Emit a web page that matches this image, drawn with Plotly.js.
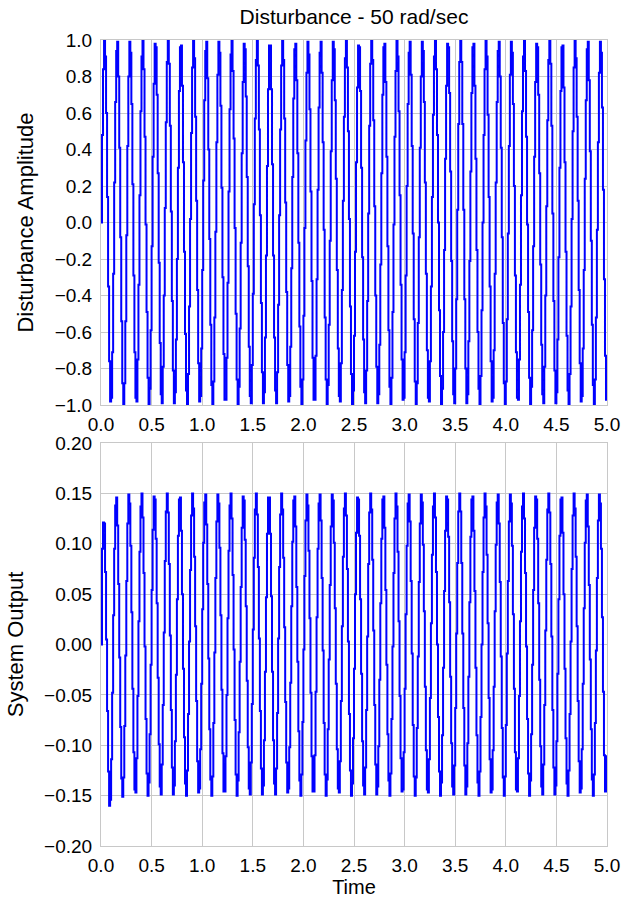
<!DOCTYPE html>
<html>
<head>
<meta charset="utf-8">
<script src="https://cdn.plot.ly/plotly-3.0.1.min.js"></script>
<style>
html,body{margin:0;padding:0;background:#fff;}
#chart{width:624px;height:901px;}
</style>
</head>
<body>
<div id="chart"></div>
<script>
// Sampling of both signals (seconds)
const startTime = 0.0;
const sampleTime = 0.01;

// Top panel: disturbance samples, t = 0.00 ... 5.00 s
const disturbance = [
0.00,0.48,0.84,1.00,0.91,0.60,0.14,-0.35,-0.76,-0.98,-0.96,-0.71,-0.28,
0.22,0.66,0.94,0.99,0.80,0.41,-0.08,-0.54,-0.88,-1.00,-0.88,-0.54,-0.07,
0.42,0.80,0.99,0.93,0.65,0.21,-0.29,-0.71,-0.96,-0.98,-0.75,-0.34,
0.15,0.61,0.91,1.00,0.84,0.47,-0.01,-0.49,-0.85,-1.00,-0.91,-0.59,-0.13,
0.36,0.76,0.98,0.96,0.70,0.27,-0.22,-0.66,-0.94,-0.99,-0.79,-0.40,
0.08,0.55,0.88,1.00,0.87,0.53,0.06,-0.43,-0.81,-0.99,-0.93,-0.64,-0.20,
0.30,0.72,0.96,0.97,0.75,0.33,-0.16,-0.61,-0.92,-1.00,-0.83,-0.46,
0.02,0.49,0.85,1.00,0.90,0.58,0.12,-0.37,-0.77,-0.98,-0.95,-0.69,-0.26,
0.23,0.67,0.94,0.99,0.79,0.40,-0.09,-0.56,-0.89,-1.00,-0.87,-0.52,-0.05,
0.44,0.81,0.99,0.93,0.64,0.19,-0.30,-0.72,-0.97,-0.97,-0.74,-0.33,
0.17,0.62,0.92,1.00,0.83,0.46,-0.03,-0.50,-0.86,-1.00,-0.90,-0.58,-0.11,
0.38,0.77,0.98,0.95,0.69,0.25,-0.24,-0.68,-0.95,-0.99,-0.78,-0.39,
0.10,0.57,0.89,1.00,0.86,0.51,0.04,-0.44,-0.82,-0.99,-0.93,-0.63,-0.18,
0.31,0.73,0.97,0.97,0.73,0.32,-0.18,-0.63,-0.92,-0.99,-0.82,-0.45,
0.04,0.51,0.86,1.00,0.89,0.57,0.11,-0.38,-0.78,-0.98,-0.95,-0.68,-0.25,
0.25,0.68,0.95,0.98,0.78,0.38,-0.11,-0.57,-0.90,-1.00,-0.86,-0.51,-0.03,
0.45,0.82,0.99,0.92,0.62,0.17,-0.32,-0.74,-0.97,-0.97,-0.73,-0.31,
0.18,0.63,0.93,0.99,0.82,0.44,-0.04,-0.52,-0.86,-1.00,-0.89,-0.56,-0.10,
0.39,0.78,0.99,0.95,0.67,0.24,-0.26,-0.69,-0.95,-0.98,-0.77,-0.37,
0.12,0.58,0.90,1.00,0.85,0.50,0.02,-0.46,-0.83,-1.00,-0.92,-0.62,-0.16,
0.33,0.74,0.97,0.96,0.72,0.30,-0.19,-0.64,-0.93,-0.99,-0.81,-0.43,
0.05,0.53,0.87,1.00,0.89,0.56,0.09,-0.40,-0.79,-0.99,-0.94,-0.67,-0.23,
0.27,0.70,0.96,0.98,0.77,0.36,-0.13,-0.59,-0.90,-1.00,-0.85,-0.49,-0.01,
0.47,0.83,1.00,0.91,0.61,0.15,-0.34,-0.75,-0.97,-0.96,-0.71,-0.29,
0.20,0.65,0.93,0.99,0.81,0.42,-0.06,-0.53,-0.87,-1.00,-0.88,-0.55,-0.08,
0.41,0.80,0.99,0.94,0.66,0.22,-0.28,-0.70,-0.96,-0.98,-0.76,-0.35,
0.14,0.59,0.91,1.00,0.84,0.48,0.00,-0.48,-0.84,-1.00,-0.91,-0.60,-0.15,
0.35,0.75,0.98,0.96,0.71,0.28,-0.21,-0.65,-0.94,-0.99,-0.80,-0.42,
0.07,0.54,0.88,1.00,0.88,0.54,0.07,-0.42,-0.80,-0.99,-0.94,-0.65,-0.21,
0.28,0.71,0.96,0.98,0.75,0.35,-0.15,-0.60,-0.91,-1.00,-0.84,-0.48,
0.00,0.48,0.84,1.00,0.91,0.59,0.14,-0.35,-0.76,-0.98,-0.96,-0.70,-0.28,
0.22,0.66,0.94,0.99,0.80,0.41,-0.08,-0.55,-0.88,-1.00,-0.87,-0.53,-0.06,
0.42,0.81,0.99,0.93,0.65,0.20,-0.29,-0.71,-0.96,-0.97,-0.75,-0.34,
0.15,0.61,0.91,1.00,0.83,0.47,-0.01,-0.49,-0.85,-1.00,-0.90,-0.59,-0.13,
0.36,0.77,0.98,0.96,0.70,0.27,-0.23,-0.67,-0.94,-0.99,-0.79,-0.40,
0.09,0.56,0.89,1.00,0.87,0.53,0.05,-0.43,-0.81,-0.99,-0.93,-0.64,-0.19,
0.30,0.72,0.96,0.97,0.74,0.33,-0.16,-0.62,-0.92,-1.00,-0.83,-0.46,
0.02,0.50,0.85,1.00,0.90,0.58,0.12,-0.37,-0.77,-0.98,-0.95,-0.69,-0.26,
0.24,0.67,0.95,0.99,0.78,0.39,-0.10,-0.56,-0.89,-1.00,-0.86,-0.52,-0.04,
0.44,0.82,0.99,0.93,0.63,0.18,-0.31,-0.73,-0.97,-0.97
];

// Bottom panel: system output samples, t = 0.00 ... 5.00 s
const systemOutput = [
0.000,0.095,0.121,0.120,0.072,0.005,-0.066,-0.126,-0.160,-0.154,-0.114,-0.048,
0.029,0.095,0.138,0.146,0.118,0.060,-0.013,-0.082,-0.133,-0.151,-0.132,-0.081,-0.011,
0.063,0.120,0.149,0.140,0.098,0.032,-0.044,-0.107,-0.144,-0.147,-0.113,-0.051,
0.023,0.092,0.137,0.150,0.126,0.071,-0.002,-0.074,-0.128,-0.150,-0.137,-0.089,-0.020,
0.054,0.114,0.147,0.144,0.105,0.041,-0.033,-0.099,-0.141,-0.149,-0.119,-0.060,
0.012,0.083,0.132,0.150,0.131,0.080,0.009,-0.065,-0.122,-0.149,-0.140,-0.096,-0.030,
0.045,0.108,0.144,0.146,0.113,0.050,-0.024,-0.092,-0.138,-0.150,-0.125,-0.069,
0.003,0.074,0.128,0.150,0.135,0.087,0.018,-0.056,-0.116,-0.147,-0.143,-0.104,-0.039,
0.035,0.101,0.141,0.149,0.119,0.060,-0.014,-0.084,-0.134,-0.150,-0.131,-0.078,-0.008,
0.066,0.122,0.149,0.140,0.096,0.029,-0.045,-0.108,-0.146,-0.146,-0.111,-0.050,
0.026,0.093,0.138,0.150,0.125,0.069,-0.005,-0.075,-0.129,-0.150,-0.135,-0.087,-0.017,
0.057,0.116,0.147,0.143,0.104,0.038,-0.036,-0.102,-0.143,-0.149,-0.117,-0.059,
0.015,0.086,0.134,0.150,0.129,0.077,0.006,-0.066,-0.123,-0.149,-0.140,-0.095,-0.027,
0.047,0.110,0.146,0.146,0.110,0.048,-0.027,-0.095,-0.138,-0.149,-0.123,-0.068,
0.006,0.077,0.129,0.150,0.134,0.086,0.017,-0.057,-0.117,-0.147,-0.143,-0.102,-0.038,
0.038,0.102,0.143,0.147,0.117,0.057,-0.017,-0.086,-0.135,-0.150,-0.129,-0.077,-0.005,
0.068,0.123,0.149,0.138,0.093,0.026,-0.048,-0.111,-0.146,-0.146,-0.110,-0.047,
0.027,0.095,0.140,0.149,0.123,0.066,-0.006,-0.078,-0.129,-0.150,-0.134,-0.084,-0.015,
0.059,0.117,0.149,0.143,0.101,0.036,-0.039,-0.104,-0.143,-0.147,-0.116,-0.056,
0.018,0.087,0.135,0.150,0.128,0.075,0.003,-0.069,-0.125,-0.150,-0.138,-0.093,-0.024,
0.050,0.111,0.146,0.144,0.108,0.045,-0.029,-0.096,-0.140,-0.149,-0.122,-0.065,
0.008,0.080,0.131,0.150,0.134,0.084,0.014,-0.060,-0.119,-0.149,-0.141,-0.101,-0.035,
0.041,0.105,0.144,0.147,0.116,0.054,-0.020,-0.089,-0.135,-0.150,-0.128,-0.074,-0.002,
0.071,0.125,0.150,0.137,0.092,0.023,-0.051,-0.113,-0.146,-0.144,-0.107,-0.044,
0.030,0.098,0.140,0.149,0.122,0.063,-0.009,-0.080,-0.131,-0.150,-0.132,-0.083,-0.012,
0.062,0.120,0.149,0.141,0.099,0.033,-0.042,-0.105,-0.144,-0.147,-0.114,-0.053,
0.021,0.089,0.137,0.150,0.126,0.072,0.000,-0.072,-0.126,-0.150,-0.137,-0.090,-0.023,
0.053,0.113,0.147,0.144,0.107,0.042,-0.032,-0.098,-0.141,-0.149,-0.120,-0.063,
0.011,0.081,0.132,0.150,0.132,0.081,0.011,-0.063,-0.120,-0.149,-0.141,-0.098,-0.032,
0.042,0.107,0.144,0.147,0.113,0.053,-0.023,-0.090,-0.137,-0.150,-0.126,-0.072,
0.000,0.072,0.126,0.150,0.137,0.089,0.021,-0.053,-0.114,-0.147,-0.144,-0.105,-0.042,
0.033,0.099,0.141,0.149,0.120,0.062,-0.012,-0.083,-0.132,-0.150,-0.131,-0.080,-0.009,
0.063,0.122,0.149,0.140,0.098,0.030,-0.044,-0.107,-0.144,-0.146,-0.113,-0.051,
0.023,0.092,0.137,0.150,0.125,0.071,-0.002,-0.074,-0.128,-0.150,-0.135,-0.089,-0.020,
0.054,0.116,0.147,0.144,0.105,0.041,-0.035,-0.101,-0.141,-0.149,-0.119,-0.060,
0.014,0.084,0.134,0.150,0.131,0.080,0.008,-0.065,-0.122,-0.149,-0.140,-0.096,-0.029,
0.045,0.108,0.144,0.146,0.111,0.050,-0.024,-0.093,-0.138,-0.150,-0.125,-0.069,
0.003,0.075,0.128,0.150,0.135,0.087,0.018,-0.056,-0.116,-0.147,-0.143,-0.104,-0.039,
0.036,0.101,0.143,0.149,0.117,0.059,-0.015,-0.084,-0.134,-0.150,-0.129,-0.078,-0.006,
0.066,0.123,0.149,0.140,0.095,0.027,-0.047,-0.110,-0.146,-0.146,
-0.110
];

const chartTitle = "Disturbance - 50 rad/sec";
const topYLabel = "Disturbance Amplitude";
const bottomYLabel = "System Output";
const xLabel = "Time";

const lineStyle = {color: "#0000FF", width: 2, shape: "hv"};
const gridColor = "#c8c8c8";
const fontFamily = "'Liberation Sans', Arial, sans-serif";

const traces = [
  {type: "scatter", mode: "lines", x0: startTime, dx: sampleTime, y: disturbance,
   xaxis: "x", yaxis: "y", line: lineStyle, hoverinfo: "skip"},
  {type: "scatter", mode: "lines", x0: startTime, dx: sampleTime, y: systemOutput,
   xaxis: "x2", yaxis: "y2", line: lineStyle, hoverinfo: "skip"}
];

const xCommon = {
  range: [0, 5], dtick: 0.5, tick0: 0, tickformat: ".1f",
  showgrid: true, gridcolor: gridColor, gridwidth: 1,
  showline: true, linecolor: gridColor, mirror: true, zeroline: false,
  ticks: "outside", ticklen: 2, tickcolor: "rgba(0,0,0,0)",
  tickfont: {size: 19, color: "#000", family: fontFamily}
};
const yCommon = {
  showgrid: true, gridcolor: gridColor, gridwidth: 1,
  showline: true, linecolor: gridColor, mirror: true, zeroline: false,
  ticks: "outside", ticklen: 4, tickcolor: "rgba(0,0,0,0)",
  tickfont: {size: 19, color: "#000", family: fontFamily}
};

const layout = {
  width: 624, height: 901,
  paper_bgcolor: "#ffffff", plot_bgcolor: "#ffffff",
  showlegend: false,
  font: {family: fontFamily, color: "#000", size: 19},
  margin: {l: 101, r: 17, t: 40, b: 55, pad: 0},
  title: {text: chartTitle, font: {size: 21, family: fontFamily, color: "#000"},
          x: 0.5, xref: "paper", y: 1 - 17/901, yref: "container", yanchor: "middle"},
  xaxis: Object.assign({}, xCommon, {anchor: "y", domain: [0, 1]}),
  yaxis: Object.assign({}, yCommon, {anchor: "x", domain: [0.547, 1], range: [-1, 1], dtick: 0.2, tick0: 0,
         tickformat: ".1f", title: {text: topYLabel, font: {size: 22}, standoff: 14}}),
  xaxis2: Object.assign({}, xCommon, {anchor: "y2", domain: [0, 1],
         title: {text: xLabel, font: {size: 20}, standoff: 4}}),
  yaxis2: Object.assign({}, yCommon, {anchor: "x2", domain: [0, 0.5], range: [-0.2, 0.2], dtick: 0.05, tick0: 0,
         tickformat: ".2f", title: {text: bottomYLabel, font: {size: 22}, standoff: 14}})
};

Plotly.newPlot("chart", traces, layout, {staticPlot: true, displayModeBar: false});
</script>
</body>
</html>
